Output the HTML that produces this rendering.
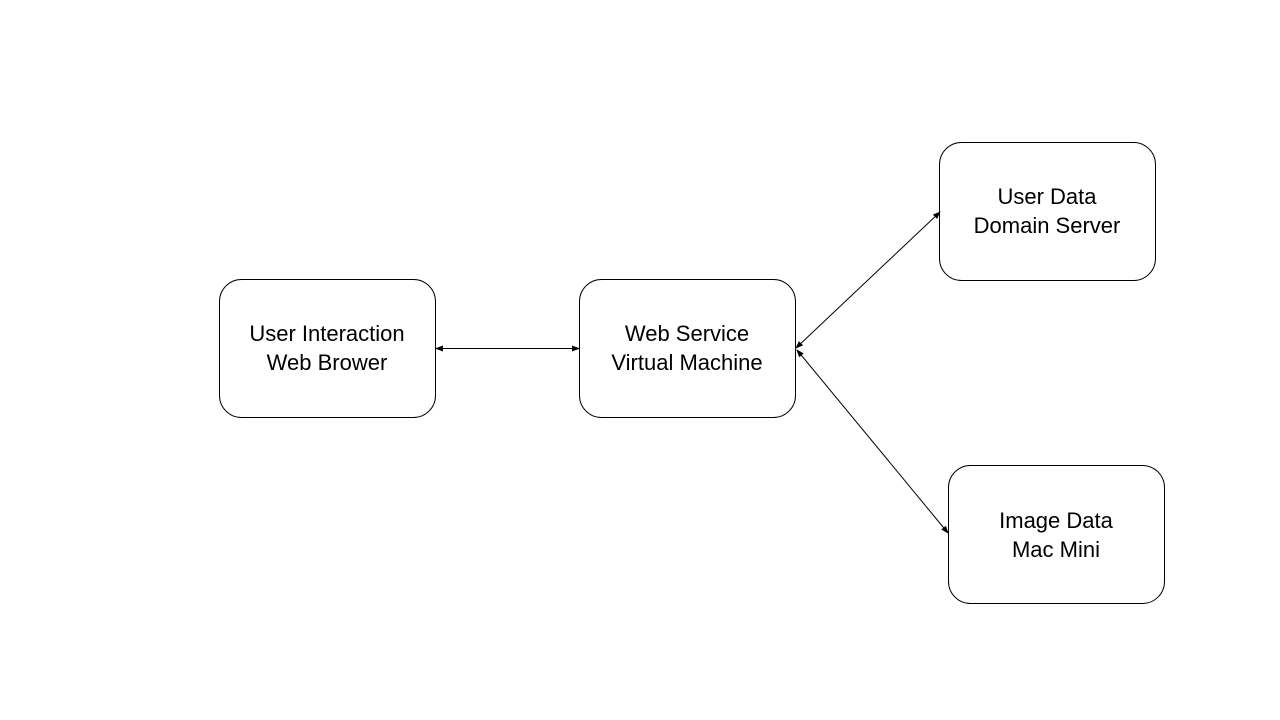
<!DOCTYPE html>
<html><head><style>
html,body{margin:0;padding:0;background:#fff;}
svg{display:block}
text{font-family:"Liberation Sans",sans-serif;font-size:22px;fill:#000;text-anchor:middle}
</style></head><body>
<svg width="1280" height="720" viewBox="0 0 1280 720">
<defs><marker id="a" markerWidth="8" markerHeight="8" refX="7" refY="4" orient="auto-start-reverse" markerUnits="userSpaceOnUse"><path d="M0,1 L8,4 L0,7z" fill="#000"/></marker></defs>
<g fill="#fff" stroke="#000" stroke-width="1">
<rect x="219.5" y="279.5" width="216" height="138" rx="22"/>
<rect x="579.5" y="279.5" width="216" height="138" rx="22"/>
<rect x="939.5" y="142.5" width="216" height="138" rx="22"/>
<rect x="948.5" y="465.5" width="216" height="138" rx="22"/>
</g>
<g stroke="#000" stroke-width="1" marker-start="url(#a)" marker-end="url(#a)">
<line x1="436" y1="348.5" x2="579" y2="348.5"/>
<line x1="796" y1="348" x2="940" y2="212"/>
<line x1="797" y1="350" x2="948" y2="533"/>
</g>
<text x="327" y="341">User Interaction</text><text x="327" y="370">Web Brower</text>
<text x="687" y="341">Web Service</text><text x="687" y="370">Virtual Machine</text>
<text x="1047" y="204">User Data</text><text x="1047" y="233">Domain Server</text>
<text x="1056" y="528">Image Data</text><text x="1056" y="557">Mac Mini</text>
</svg>
</body></html>
